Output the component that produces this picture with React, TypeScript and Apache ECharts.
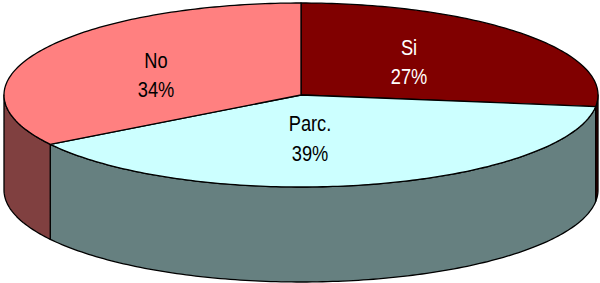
import React, { useEffect, useRef } from "react";
import * as echarts from "echarts";

const categories = ["Si", "Parc.", "No"];
const values = [27, 39, 34];
const percentLabels = ["27%", "39%", "34%"];

const TOP_COLORS = ["#800000", "#CCFFFF", "#FF8080"];
const SIDE_COLORS = ["#400000", "#668080", "#804040"];
const TEXT_COLORS = ["#FFFFFF", "#000000", "#000000"];
const LABEL_POS: Record<string, [number, number]> = {
  Si: [409, 62],
  "Parc.": [310, 138.5],
  No: [156, 75],
};

const CX = 301;
const CY = 95;
const RX = 297;
const RY = 92;
const DEPTH = 95;

function pt(deg: number, dy: number): number[] {
  const t = (deg * Math.PI) / 180;
  return [CX + RX * Math.cos(t), CY - RY * Math.sin(t) + dy];
}

function arc(from: number, to: number, dy: number): number[][] {
  const pts: number[][] = [];
  const n = Math.max(2, Math.ceil(Math.abs(from - to) / 1));
  for (let i = 0; i <= n; i++) {
    pts.push(pt(from + ((to - from) * i) / n, dy));
  }
  return pts;
}

export default function App() {
  const ref = useRef<HTMLDivElement>(null);
  useEffect(() => {
    if (!ref.current) return;
    const chart = echarts.init(ref.current, undefined, { renderer: "svg" });
    const total = values.reduce((a, b) => a + b, 0);
    const starts: number[] = [];
    const ends: number[] = [];
    let acc = 90;
    values.forEach((v) => {
      starts.push(acc);
      acc -= (v / total) * 360;
      ends.push(acc);
    });

    const renderItem = (params: any, api: any) => {
      const i = params.dataIndex;
      const s = starts[i];
      const e = ends[i];
      const children: any[] = [];
      // visible side segments: angle ranges where sin <= 0 => [-180 + 360k, 0 + 360k]
      for (let k = -2; k <= 1; k++) {
        const lo = -180 + 360 * k;
        const hi = 0 + 360 * k;
        const a = Math.min(s, hi);
        const b = Math.max(e, lo);
        if (a > b) {
          const top = arc(a, b, 0);
          const bottom = arc(b, a, DEPTH);
          children.push({
            type: "polygon",
            z2: 1,
            shape: { points: top.concat(bottom) },
            style: { fill: SIDE_COLORS[i], stroke: "#000", lineWidth: 1.3, lineJoin: "round" },
          });
        }
      }
      const topPts = [[CX, CY]].concat(arc(s, e, 0));
      children.push({
        type: "polygon",
        z2: 10,
        shape: { points: topPts },
        style: { fill: TOP_COLORS[i], stroke: "#000", lineWidth: 1.3, lineJoin: "round" },
      });
      const name = categories[i];
      const pos = LABEL_POS[name];
      children.push({
        type: "text",
        z2: 20,
        x: pos[0],
        y: pos[1],
        scaleX: 0.83,
        style: {
          x: 0,
          y: 0,
          text: name + "\n" + percentLabels[i],
          fill: TEXT_COLORS[i],
          fontSize: 22,
          fontFamily: "Liberation Sans, Arial, sans-serif",
          lineHeight: 29.5,
          align: "center",
          verticalAlign: "middle",
          textAlign: "center",
          textVerticalAlign: "middle",
        },
      });
      return { type: "group", children };
    };

    chart.setOption({
      animation: false,
      backgroundColor: "#FFFFFF",
      series: [
        {
          type: "custom",
          coordinateSystem: "none",
          renderItem,
          data: values.map((v, i) => ({ name: categories[i], value: v })),
        },
      ],
    });
    return () => chart.dispose();
  }, []);
  return (
    <div
      ref={ref}
      style={{ position: "fixed", left: 0, top: 0, width: 600, height: 283 }}
    />
  );
}
